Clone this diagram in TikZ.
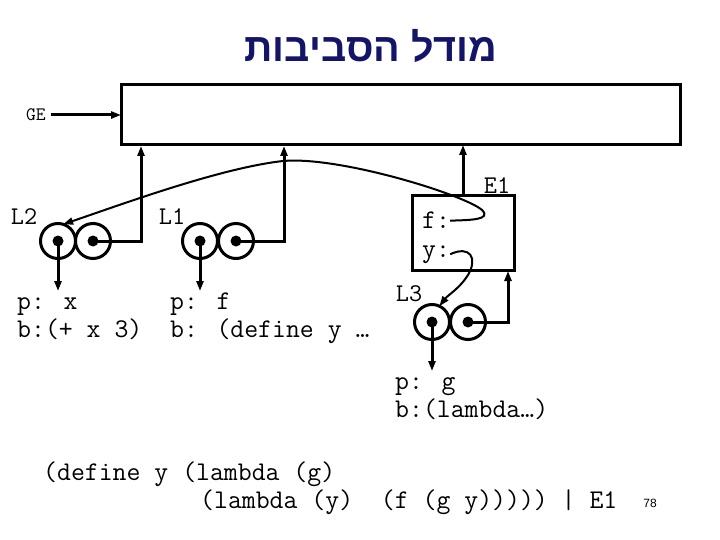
\documentclass[tikz,border=0pt]{standalone}
\usepackage{fontspec}
\setmainfont{Liberation Serif}
\newfontfamily\hebfont[Script=Hebrew]{Liberation Sans}
\newfontfamily\numfont{Liberation Sans}
\TeXXeTstate=1
\usetikzlibrary{arrows.meta}
\definecolor{titleblue}{RGB}{20,20,105}
\begin{document}
\begin{tikzpicture}[x=1pt,y=-1pt,
  boxshape/.style={draw, line width=3pt, inner sep=0pt, outer sep=0pt},
  cell/.style={circle, draw, line width=3pt, minimum size=35pt, inner sep=0pt, outer sep=0pt},
  conn/.style={line width=3pt},
  curveconn/.style={line width=2pt},
  arr/.style={-{Triangle[length=10pt,width=7pt]}},
  txt/.style={font=\ttfamily\fontsize{27}{30}\selectfont, inner sep=0pt, anchor=base west},
  lbl/.style={font=\ttfamily\fontsize{25.5}{27}\selectfont, inner sep=0pt},
  dotfill/.style={fill=black}]
\useasboundingbox (0,0) rectangle (720,540);

% title
\node[font=\hebfont\bfseries\fontsize{39.5}{44}\selectfont, text=titleblue] (title) at (371,46) {\beginR מודל הסביבות\endR};

% global environment
\node[boxshape, anchor=north west, minimum width=559pt, minimum height=60pt] (ge) at (121,85) {};
\node[font=\ttfamily\fontsize{19}{19}\selectfont, inner sep=5pt] (gelbl) at (36,115) {GE};
\draw[conn, arr] (gelbl) -- (ge.west);

% E1 frame
\node[boxshape, anchor=north west, minimum width=102pt, minimum height=74pt] (e1) at (412,196) {};
\node[lbl] (e1lbl) at (497,186) {E1};
\node[txt] (ftxt) at (422,229) {f:};
\node[txt] (ytxt) at (422,257) {y:};
\draw[conn, arr] (e1.north) -- (e1.north |- ge.south);

% L2
\node[cell] (l2a) at (58,241) {};
\node[cell] (l2b) at (93,241) {};
\fill[dotfill] (l2a.center) circle[radius=5.5pt];
\fill[dotfill] (l2b.center) circle[radius=5.5pt];
\node[lbl] (l2lbl) at (24,217) {L2};
\coordinate (up1) at (141,146);
\coordinate (l2p) at (58,291);
\draw[conn, arr] (l2b.center) -| (up1);
\draw[conn, arr] (l2a.center) -- (l2p);
\node[txt] (l2t1) at (17,309) {p: x};
\node[txt] (l2t2) at (17,337) {b:(+ x 3)};

% L1
\node[cell] (l1a) at (200,241) {};
\node[cell] (l1b) at (236,241) {};
\fill[dotfill] (l1a.center) circle[radius=5.5pt];
\fill[dotfill] (l1b.center) circle[radius=5.5pt];
\node[lbl] (l1lbl) at (172,217) {L1};
\coordinate (up2) at (284,146);
\coordinate (l1p) at (200,291);
\draw[conn, arr] (l1b.center) -| (up2);
\draw[conn, arr] (l1a.center) -- (l1p);
\node[txt] (l1t1) at (170,309) {p: f};
\node[txt] (l1t2) at (170,337) {b: (define y …};

% L3
\node[cell] (l3a) at (432,322) {};
\node[cell] (l3b) at (468,322) {};
\fill[dotfill] (l3a.center) circle[radius=5.5pt];
\fill[dotfill] (l3b.center) circle[radius=5.5pt];
\node[lbl] (l3lbl) at (409,294) {L3};
\coordinate (up3) at (508,271);
\coordinate (l3p) at (432,371);
\draw[conn, arr] (l3b.center) -| (up3);
\draw[conn, arr] (l3a.center) -- (l3p);
\node[txt] (l3t1) at (395,389) {p: g};
\node[txt] (l3t2) at (395,417) {b:(lambda…)};

% bindings in E1
\draw[curveconn, arr] (ftxt.east) .. controls (470,220) and (492,220) .. (482,210)
  .. controls (465,195) and (340,156) .. (283,161)
  .. controls (220,168) and (120,205) .. (l2a.73);
\draw[curveconn, arr] (ytxt.east) .. controls (470,245) and (478,258) .. (468,275)
  .. controls (460,288) and (448,295) .. (l3a.65);

% expression
\node[txt] (expr1) at (43,480) {(define y (lambda (g)};
\node[txt] (expr2) at (200,508) {(lambda (y)\ \ (f (g y))))) | E1};
\node[font=\numfont\fontsize{12}{12}\selectfont, inner sep=0pt] (pagenum) at (650,503) {78};
\end{tikzpicture}
\end{document}
